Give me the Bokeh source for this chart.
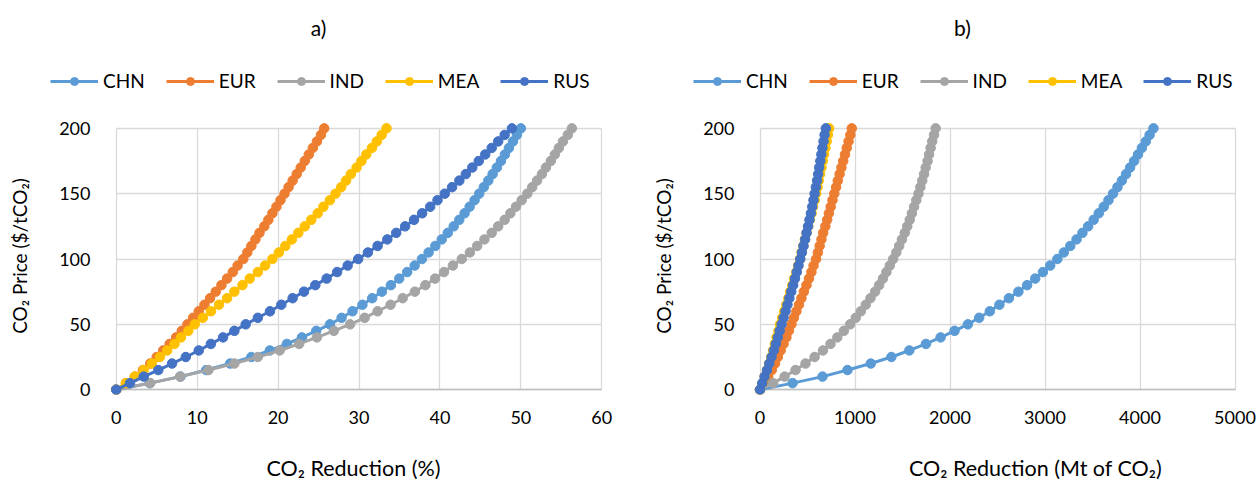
from bokeh.plotting import figure
from bokeh.layouts import row, column
from bokeh.models import Legend, LegendItem, FixedTicker, Range1d, Grid, Label
from bokeh.embed import file_html
from bokeh.resources import INLINE

regions = ["CHN", "EUR", "IND", "MEA", "RUS"]
colors = ["#5B9BD5", "#ED7D31", "#A5A5A5", "#FFC000", "#4472C4"]

price = [0, 5, 10, 15, 20, 25, 30, 35, 40, 45, 50, 55, 60, 65, 70, 75, 80, 85, 90, 95, 100,
         105, 110, 115, 120, 125, 130, 135, 140, 145, 150, 155, 160, 165, 170, 175, 180, 185, 190, 195, 200]

# Panel a: CO2 reduction (%)
chn_pct = [0, 4.14, 7.94, 11.12, 14.08, 16.69, 18.98, 21.09, 22.95, 24.72, 26.41, 27.85, 29.20, 30.42, 31.63,
           32.83, 33.94, 34.97, 35.95, 36.88, 37.78, 38.60, 39.43, 40.22, 40.97, 41.70, 42.39, 43.05, 43.67,
           44.28, 44.86, 45.42, 45.98, 46.51, 47.03, 47.54, 48.03, 48.53, 49.02, 49.51, 50.00]
eur_pct = [0, 1.2, 2.3, 3.3, 4.2, 5.0, 5.8, 6.6, 7.4, 8.1, 8.8, 9.5, 10.2, 10.9, 11.6, 12.3, 13.0, 13.7, 14.4,
           15.0, 15.7, 16.2, 16.7, 17.2, 17.7, 18.3, 18.8, 19.3, 19.8, 20.3, 20.8, 21.3, 21.8, 22.3, 22.8,
           23.3, 23.8, 24.3, 24.8, 25.3, 25.7]
ind_pct = [0, 4.2, 7.9, 11.4, 14.6, 17.5, 20.2, 22.6, 24.8, 26.9, 28.9, 30.7, 32.3, 33.9, 35.4, 36.9, 38.2,
           39.4, 40.5, 41.6, 42.7, 43.7, 44.6, 45.5, 46.4, 47.2, 48.0, 48.7, 49.4, 50.1, 50.8, 51.4, 52.0,
           52.6, 53.1, 53.7, 54.2, 54.7, 55.2, 55.8, 56.3]
mea_pct = [0, 1.2, 2.3, 3.4, 4.4, 5.4, 6.3, 7.2, 8.0, 8.9, 9.7, 10.7, 11.7, 12.7, 13.7, 14.6, 15.6, 16.5,
           17.5, 18.4, 19.3, 20.1, 20.9, 21.7, 22.5, 23.3, 24.1, 24.9, 25.6, 26.4, 27.1, 27.8, 28.4, 29.0,
           29.7, 30.3, 30.9, 31.6, 32.2, 32.8, 33.4]
rus_pct = [0, 1.7, 3.4, 5.2, 6.9, 8.6, 10.2, 11.7, 13.2, 14.6, 16.0, 17.5, 19.0, 20.4, 21.8, 23.2, 24.6,
           26.0, 27.3, 28.6, 29.9, 31.1, 32.3, 33.5, 34.6, 35.7, 36.8, 37.8, 38.8, 39.7, 40.6, 41.5, 42.4,
           43.2, 44.0, 44.8, 45.6, 46.4, 47.2, 48.0, 48.9]

# Panel b: CO2 reduction (Mt of CO2)
chn_mt = [0, 343, 658, 921, 1166, 1383, 1572, 1747, 1901, 2048, 2188, 2307, 2419, 2520, 2620, 2720, 2812,
          2897, 2978, 3055, 3130, 3198, 3266, 3332, 3394, 3454, 3512, 3566, 3618, 3668, 3716, 3763, 3809,
          3853, 3896, 3938, 3979, 4020, 4061, 4101, 4142]
eur_mt = [0, 45, 86, 124, 158, 188, 218, 248, 278, 304, 331, 357, 383, 410, 436, 462, 489, 515, 541, 564,
          590, 609, 628, 647, 665, 688, 707, 725, 744, 763, 782, 801, 819, 838, 857, 876, 895, 913, 932,
          951, 966]
ind_mt = [0, 138, 259, 374, 479, 575, 663, 742, 814, 883, 949, 1008, 1061, 1113, 1163, 1212, 1254, 1294,
          1330, 1366, 1402, 1435, 1465, 1494, 1524, 1550, 1576, 1599, 1622, 1645, 1668, 1688, 1708, 1727,
          1744, 1764, 1780, 1796, 1813, 1832, 1849]
mea_mt = [0, 26, 50, 74, 96, 118, 137, 157, 174, 194, 211, 233, 255, 277, 299, 318, 340, 360, 382, 401,
          421, 438, 456, 473, 491, 508, 525, 543, 558, 576, 591, 606, 619, 632, 647, 661, 674, 689, 702,
          715, 728]
rus_mt = [0, 24, 48, 74, 98, 122, 145, 166, 187, 207, 227, 248, 269, 289, 309, 329, 349, 368, 387, 405,
          424, 441, 458, 475, 490, 506, 521, 536, 550, 563, 575, 588, 601, 612, 623, 635, 646, 657, 669,
          680, 693]

y_ticks = [0, 50, 100, 150, 200]
xa_ticks = [0, 10, 20, 30, 40, 50, 60]
xb_ticks = [0, 1000, 2000, 3000, 4000, 5000]

FONT = "Lato"
GRID = "#D9D9D9"
HEADER_H = 112
FOOTER_H = 57
MAIN_H = 487 - HEADER_H - FOOTER_H
MARKER = 9.5


def blank_strip(width, height):
    s = figure(width=width, height=height, output_backend="svg", toolbar_location=None,
               x_range=Range1d(0, width), y_range=Range1d(0, height),
               x_axis_type=None, y_axis_type=None, min_border=0)
    s.title = None
    s.outline_line_color = None
    s.grid.visible = False
    return s


def make_header(title_text, series, width, title_x, legend_x):
    # Title and legend strip; legend renderers hold the real series on an
    # off-screen range so that only their legend glyphs are visible.
    h = blank_strip(width, HEADER_H)
    h.extra_x_ranges = {"offscreen": Range1d(-1e6, -9e5)}
    h.add_layout(Label(x=title_x, y=HEADER_H - 27, text=title_text, text_align="center",
                       text_baseline="middle", text_font=FONT, text_font_size="21px",
                       text_color="black"))
    items = []
    for name, color, xs in zip(regions, colors, series):
        r1 = h.line(xs, price, line_color=color, line_width=3, x_range_name="offscreen")
        r2 = h.scatter(xs, price, size=MARKER, fill_color=color, line_color=color,
                       x_range_name="offscreen")
        items.append(LegendItem(label=name, renderers=[r1, r2]))
    legend = Legend(items=items, orientation="horizontal", location=(legend_x, 20),
                    glyph_width=48, glyph_height=20, label_standoff=5, spacing=21,
                    padding=0, margin=0, border_line_color=None, background_fill_alpha=0,
                    label_text_font=FONT, label_text_font_size="19px", label_text_color="black")
    h.add_layout(legend)
    return h


def make_footer(x_label, width, label_x):
    f = blank_strip(width, FOOTER_H)
    f.add_layout(Label(x=label_x, y=20, text=x_label, text_align="center", text_baseline="middle",
                       text_font=FONT, text_font_size="21.5px", text_color="black"))
    return f


def make_panel(series, x_ticks, x_pad, width, mb_left, mb_right):
    x_start, x_end = x_ticks[0], x_ticks[-1]
    p = figure(width=width, height=MAIN_H, output_backend="svg", toolbar_location=None,
               x_range=Range1d(x_start - x_pad, x_end + x_pad), y_range=Range1d(-3.7, 208.3),
               min_border_left=mb_left, min_border_right=mb_right,
               min_border_top=5, min_border_bottom=MAIN_H - 5 - 277)
    p.title = None
    p.outline_line_color = None
    p.background_fill_color = "white"
    p.border_fill_color = "white"

    p.xaxis.ticker = FixedTicker(ticks=x_ticks)
    p.yaxis.ticker = FixedTicker(ticks=y_ticks)
    for ax in (p.xaxis, p.yaxis):
        ax.axis_line_color = None
        ax.major_tick_line_color = None
        ax.minor_tick_line_color = None
        ax.major_label_text_font = FONT
        ax.major_label_text_font_size = "18px"
        ax.major_label_text_color = "black"
        ax.axis_label_text_font = FONT
        ax.axis_label_text_font_size = "19px"
        ax.axis_label_text_font_style = "normal"
        ax.axis_label_text_color = "black"
    p.yaxis.axis_label = "CO\u2082 Price ($/tCO\u2082)"
    p.xaxis.major_label_standoff = 10
    p.yaxis.major_label_standoff = 10
    p.yaxis.axis_label_standoff = 25

    p.xgrid.grid_line_color = GRID
    p.ygrid.grid_line_color = GRID
    p.xgrid.grid_line_width = 1.3
    p.ygrid.grid_line_width = 1.3
    p.xgrid.cross_bounds = (y_ticks[0], y_ticks[-1])
    p.ygrid.cross_bounds = (x_start, x_end)
    base = Grid(dimension=1, ticker=FixedTicker(ticks=[y_ticks[0]]), grid_line_color="#BFBFBF",
                grid_line_width=1.5, cross_bounds=(x_start, x_end))
    p.add_layout(base)

    for name, color, xs in zip(regions, colors, series):
        p.line(xs, price, line_color=color, line_width=3)
        p.scatter(xs, price, size=MARKER, fill_color=color, line_color=color)
    return p


series_a = [chn_pct, eur_pct, ind_pct, mea_pct, rus_pct]
series_b = [chn_mt, eur_mt, ind_mt, mea_mt, rus_mt]

ha = make_header("a)", series_a, 634, 318, 50)
hb = make_header("b)", series_b, 622, 328, 59)
pa = make_panel(series_a, xa_ticks, 1.2, 634, 106, 23)
pb = make_panel(series_b, xb_ticks, 100, 622, 116, 12)
fa = make_footer("CO\u2082 Reduction (%)", 634, 353)
fb = make_footer("CO\u2082 Reduction (Mt of CO\u2082)", 622, 401)

layout = column(row(ha, hb), row(pa, pb), row(fa, fb))
open("out.html", "w").write(file_html(layout, INLINE))
